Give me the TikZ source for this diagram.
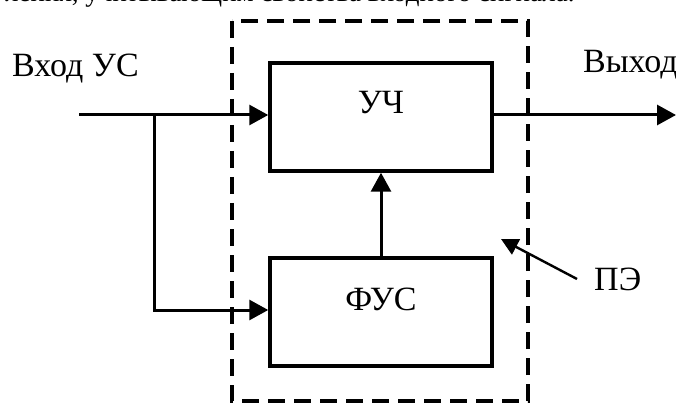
\documentclass[tikz,border=0pt]{standalone}
\usepackage{fontspec}
\setmainfont{Liberation Serif}
\usetikzlibrary{arrows.meta}
\tikzset{
  blockbox/.style={draw, line width=3.5pt, minimum width=222pt, minimum height=108pt, inner sep=0pt},
  conn/.style={line width=3pt},
  arr/.style={conn, -{Triangle[length=19pt,width=20pt]}},
  frame/.style={line width=4pt, dash pattern=on 17pt off 9pt},
  lbl/.style={inner sep=0pt, font=\fontsize{34}{38}\selectfont},
}
\begin{document}
\begin{tikzpicture}[x=1pt,y=-1pt]
\useasboundingbox (0,0) rectangle (676,403);
\clip (0,0) rectangle (676,403);
\fill[white] (0,0) rectangle (676,403);
% cut-off text line on top
\node[inner sep=0pt, anchor=base west, font=\fontsize{27}{30}\selectfont] (toptext) at (5,2) {ления, учитывающим свойства входного сигнала.};
% dashed frame
\draw[frame] (232,21) rectangle (528,401);
% blocks
\node[blockbox] (uch) at (381,117) {};
\node[blockbox] (fus) at (381,312) {};
\node[lbl] (uchtxt) at (381,103) {УЧ};
\node[lbl] (fustxt) at (381,299) {ФУС};
% labels
\node[lbl, anchor=west] (vhod) at (12,69) {Вход УС};
\node[lbl, anchor=west] (vyhod) at (583,65) {Выход};
\node[lbl, anchor=west] (pe) at (594,279) {ПЭ};
% connectors
\coordinate (in) at (79,115);
\coordinate (br) at (154,115);
\coordinate (brdown) at (154,310);
\coordinate (out) at (676,115);
\coordinate (petail) at (577,279);
\coordinate (petip) at (501,239);
\draw[arr] (in) -- (uch.west |- in);
\draw[arr] (br) -- (brdown) -- (fus.west |- brdown);
\draw[arr] (fus.north) -- (uch.south);
\draw[arr] (uch.east |- out) -- (out);
\draw[conn, line width=2.4pt, -{Triangle[length=17pt,width=17pt]}] (petail) -- (petip);
\end{tikzpicture}
\end{document}
